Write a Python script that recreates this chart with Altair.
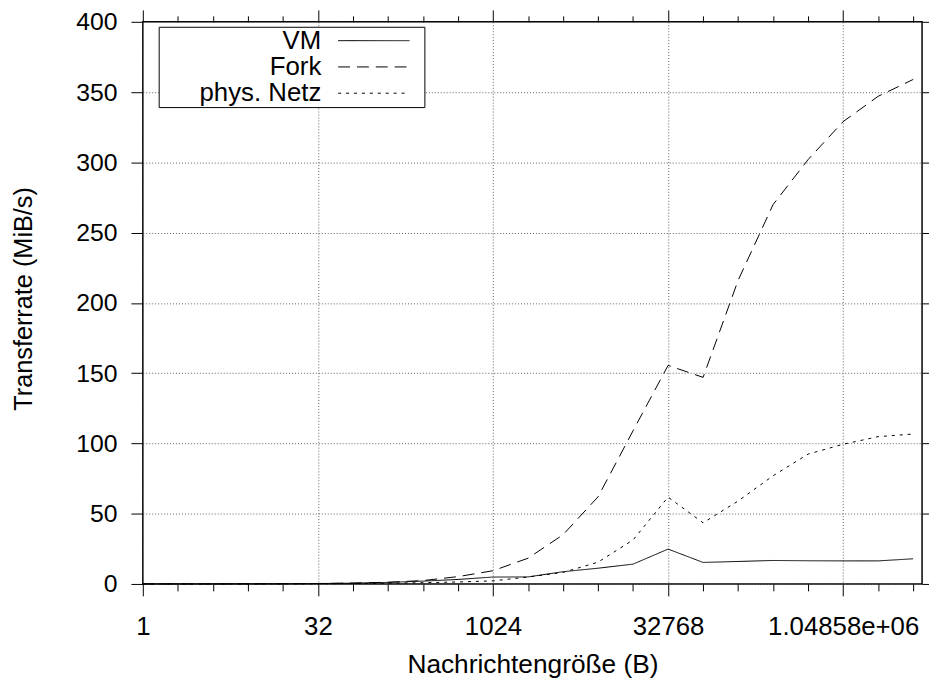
import altair as alt
import pandas as pd

FONT = "Liberation Sans"

# message sizes in bytes (powers of two)
msg_sizes = [1, 2, 4, 8, 16, 32, 64, 128, 256, 512, 1024, 2048, 4096, 8192,
             16384, 32768, 65536, 131072, 262144, 524288, 1048576, 2097152, 4194304]

vm_rate = [0.01, 0.02, 0.04, 0.08, 0.15, 0.3, 0.55, 1.1, 2.0, 3.2, 4.9, 5.0, 8.7,
           11.2, 14.1, 24.8, 15.3, 16.0, 16.7, 16.5, 16.4, 16.4, 17.9]
fork_rate = [0.01, 0.02, 0.04, 0.08, 0.16, 0.3, 0.6, 1.2, 2.4, 5.2, 9.4, 18.3, 35.0,
             62.0, 109.0, 155.5, 147.0, 216.0, 270.0, 302.0, 329.0, 347.0, 359.0]
phys_rate = [0.005, 0.01, 0.02, 0.04, 0.08, 0.15, 0.3, 0.5, 0.9, 1.4, 2.2, 4.9, 8.2,
             15.5, 31.3, 61.8, 43.5, 59.0, 77.0, 92.4, 99.4, 104.8, 106.7]

series_names = ["VM", "Fork", "phys. Netz"]
series_dash = [[1, 0], [12, 7], [3, 5]]

major_vals = [1, 32, 1024, 32768, 1048576]
major_labels = ["1", "32", "1024", "32768", "1.04858e+06"]
y_ticks = [0, 50, 100, 150, 200, 250, 300, 350, 400]

df = pd.DataFrame({
    "size": msg_sizes * 3,
    "rate": vm_rate + fork_rate + phys_rate,
    "series": [series_names[0]] * len(msg_sizes)
    + [series_names[1]] * len(msg_sizes)
    + [series_names[2]] * len(msg_sizes),
})

major_test = "indexof([" + ",".join(str(v) for v in major_vals) + "], datum.value) >= 0"
label_expr = "''"
for v, l in reversed(list(zip(major_vals, major_labels))):
    label_expr = f"datum.value == {v} ? '{l}' : ({label_expr})"

xscale = alt.Scale(type="log", base=2, domain=[1, 5000000], nice=False)
yscale = alt.Scale(domain=[0, 400], nice=False, zero=True)

x_bottom = alt.Axis(
    values=msg_sizes, labelExpr=label_expr, orient="bottom",
    tickSize={"condition": {"test": major_test, "value": 12}, "value": 7},
    tickColor="black", tickWidth=1,
    grid=True,
    gridOpacity={"condition": {"test": major_test, "value": 1}, "value": 0},
    gridDash=[1, 2], gridColor="#606060", gridWidth=1,
    labelFont=FONT, labelFontSize=26, labelColor="black", labelPadding=18,
    labelFlush=False, labelOverlap=False,
    title="Nachrichtengröße (B)", titleFont=FONT, titleFontSize=26.5,
    titleFontWeight="normal", titleColor="black", titlePadding=12,
    domain=False,
)
y_left = alt.Axis(
    values=y_ticks, orient="left", tickSize=12, tickColor="black", tickWidth=1,
    grid=True, gridDash=[1, 2], gridColor="#606060", gridWidth=1,
    labelFont=FONT, labelFontSize=25, labelColor="black", labelPadding=14,
    labelFlush=False,
    title="Transferrate (MiB/s)", titleFont=FONT, titleFontSize=25.5,
    titleFontWeight="normal", titleColor="black",
    titleX=-120, titleY=279, titleAlign="center", titleBaseline="middle",
    domain=False,
)
x_top = alt.Axis(
    values=msg_sizes, orient="top", labels=False, title=None, grid=False,
    tickSize={"condition": {"test": major_test, "value": 12}, "value": 6},
    tickColor="black", tickWidth=1, domain=False,
)
y_right = alt.Axis(
    values=y_ticks, orient="right", labels=False, title=None, grid=False,
    tickSize=12, tickColor="black", tickWidth=1, domain=False,
)

mirror = alt.Chart(df).mark_line(opacity=0).encode(
    x=alt.X("size:Q", scale=xscale, axis=x_top),
    y=alt.Y("rate:Q", scale=yscale, axis=y_right),
    detail="series:N",
)

lines = alt.Chart(df).mark_line(color="black", strokeWidth=1).encode(
    x=alt.X("size:Q", scale=xscale, axis=x_bottom),
    y=alt.Y("rate:Q", scale=yscale, axis=y_left),
    strokeDash=alt.StrokeDash(
        "series:N",
        scale=alt.Scale(domain=series_names, range=series_dash),
        legend=alt.Legend(
            title=None, orient="none", legendX=16, legendY=5,
            symbolType="M-5,0H5M6.6,0", symbolSize=207.36,
            symbolStrokeWidth=1, symbolStrokeColor="black",
            labelAlign="right", labelOffset={"expr": "-66"}, symbolOffset=203,
            labelFont=FONT, labelFontSize=26, labelColor="black", labelLimit=400,
            rowPadding=0.5, padding=1, strokeColor="black", fillColor="white",
        ),
    ),
)

chart = (
    alt.layer(mirror, lines)
    .resolve_axis(x="independent", y="independent")
    .properties(
        width=786, height=567,
        autosize=alt.AutoSizeParams(type="none"),
        padding={"left": 136, "top": 11, "right": 7, "bottom": 100},
        background="white",
    )
    .configure_view(stroke="black", strokeWidth=1.5)
)

chart.save("out.html", embed_options={"renderer": "svg", "actions": False})
